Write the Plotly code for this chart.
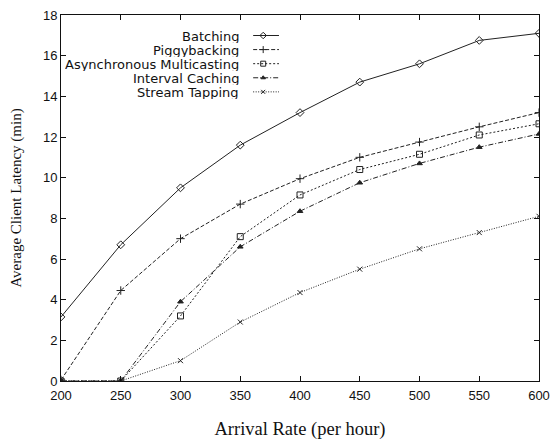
import plotly.graph_objects as go

rates = [200, 250, 300, 350, 400, 450, 500, 550, 600]
batching = [3.15, 6.7, 9.5, 11.6, 13.2, 14.7, 15.6, 16.75, 17.1]
piggybacking = [0.05, 4.45, 7.0, 8.7, 9.95, 11.0, 11.75, 12.5, 13.2]
async_mc = [0.0, 0.0, 3.2, 7.1, 9.15, 10.4, 11.15, 12.1, 12.65]
interval = [0.0, 0.0, 3.9, 6.6, 8.35, 9.75, 10.7, 11.5, 12.15]
stream = [0.0, 0.0, 1.0, 2.9, 4.35, 5.5, 6.5, 7.3, 8.1]

names = ["Batching", "Piggybacking", "Asynchronous Multicasting", "Interval Caching", "Stream Tapping"]
series = [batching, piggybacking, async_mc, interval, stream]
dashes = ["solid", "4px,2px", "2px,2px", "5px,2px,1px,2px", "1px,1.5px"]
symbols = ["diamond-open", "cross-thin-open", "square-open", "triangle-up", "x-thin-open"]
sizes = [6, 6, 6, 5, 5]

fig = go.Figure()
for n, s, d, sym, sz in zip(names, series, dashes, symbols, sizes):
    fig.add_trace(go.Scatter(
        x=rates, y=s, mode="lines+markers", name=n, showlegend=False,
        line=dict(color="#222", width=1, dash=d),
        marker=dict(symbol=sym, size=sz, color="#222", line=dict(color="#222", width=1)),
    ))

# custom legend (text left of sample) on an overlay axis spanning the plot area
leg_top = 0.944
leg_step = 0.0385
for i, (n, d, sym, sz) in enumerate(zip(names, dashes, symbols, sizes)):
    yy = leg_top - i * leg_step
    fig.add_trace(go.Scatter(
        x=[0.402, 0.456], y=[yy, yy], mode="lines", xaxis="x2", yaxis="y2",
        showlegend=False, hoverinfo="skip", line=dict(color="#222", width=1, dash=d)))
    fig.add_trace(go.Scatter(
        x=[0.423], y=[yy], mode="markers", xaxis="x2", yaxis="y2",
        showlegend=False, hoverinfo="skip",
        marker=dict(symbol=sym, size=sz - 1, color="#222", line=dict(color="#222", width=1))))
    fig.add_annotation(x=0.377, y=yy, xref="x2", yref="y2", text=n, showarrow=False,
                       xanchor="right", yanchor="middle", height=14,
                       font=dict(family="DejaVu Sans", size=13, color="#111"))

axis_common = dict(showgrid=False, zeroline=False, showline=True, linecolor="#111", linewidth=1,
                   mirror="ticks", ticks="inside", ticklen=5, tickcolor="#111", automargin=False,
                   tickfont=dict(family="Liberation Sans", size=13, color="#111"))

fig.update_layout(
    width=551, height=442,
    margin=dict(l=61, r=12, t=15, b=61),
    paper_bgcolor="white", plot_bgcolor="white",
    xaxis=dict(range=[200, 600], tickvals=rates, ticklabelstandoff=2, **axis_common,
               title=dict(text="Arrival Rate (per hour)", standoff=20,
                          font=dict(family="Liberation Serif", size=18.5, color="#111"))),
    yaxis=dict(range=[0, 18], tickvals=[0, 2, 4, 6, 8, 10, 12, 14, 16, 18], **axis_common,
               title=dict(text="Average Client Latency (min)", standoff=17,
                          font=dict(family="Liberation Serif", size=15, color="#111"))),
    xaxis2=dict(range=[0, 1], overlaying="x", visible=False, fixedrange=True),
    yaxis2=dict(range=[0, 1], overlaying="y", visible=False, fixedrange=True),
)

# remove the browser's default 8px body margin so the figure fills the window exactly
fig.write_html("out.html", config={"displayModeBar": False},
               post_script="document.body.style.margin='0px';document.body.style.overflow='hidden';")
